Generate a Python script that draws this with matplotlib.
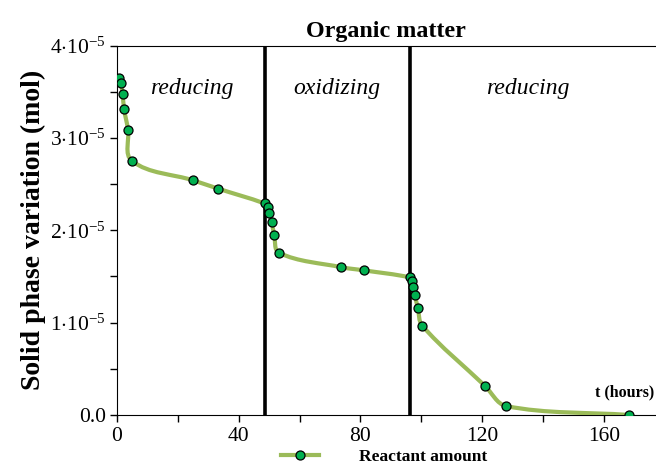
import numpy as np
import matplotlib
matplotlib.use("Agg")
from matplotlib import pyplot as plt
from matplotlib.ticker import FixedLocator, FixedFormatter
from matplotlib.path import Path
from matplotlib.patches import PathPatch
from matplotlib.lines import Line2D

# reactant amount (solid phase variation, mol) vs time (hours)
time_h = [0.7, 1.3, 1.9, 2.4, 3.7, 5.0, 25.1, 33.3, 48.5,
          49.6, 50.1, 50.8, 51.7, 53.3, 73.7, 81.3, 96.1,
          96.8, 97.1, 97.8, 98.8, 100.3, 120.9, 127.8, 168.2]
amount = [3.65e-5, 3.59e-5, 3.48e-5, 3.31e-5, 3.09e-5, 2.75e-5, 2.54e-5, 2.45e-5, 2.29e-5,
          2.25e-5, 2.19e-5, 2.09e-5, 1.95e-5, 1.755e-5, 1.60e-5, 1.565e-5, 1.49e-5,
          1.45e-5, 1.39e-5, 1.30e-5, 1.16e-5, 0.966e-5, 0.314e-5, 0.097e-5, 0.0]

switch_times = [48.7, 96.1]
phase_names = ["reducing", "oxidizing", "reducing"]
phase_centers = [24.7, 72.4, 135.0]

x_major = [0, 40, 80, 120, 160]
x_minor = [20, 60, 100, 140]
y_major = [0, 1e-5, 2e-5, 3e-5, 4e-5]
y_labels = ["0.0", r"$1{\cdot}10^{-5}$", r"$2{\cdot}10^{-5}$", r"$3{\cdot}10^{-5}$", r"$4{\cdot}10^{-5}$"]
y_minor = [0.5e-5, 1.5e-5, 2.5e-5, 3.5e-5]

plt.rcParams['font.family'] = ['Liberation Serif', 'DejaVu Serif']
plt.rcParams['mathtext.fontset'] = 'custom'
plt.rcParams['mathtext.rm'] = 'Liberation Serif'
plt.rcParams['mathtext.it'] = 'Liberation Serif:italic'

LINE_COLOR = '#9BBB59'
DOT_COLOR = '#00B050'


def SmoothPath(x, y, sx, sy):
    # bezier curve through the points (like a spreadsheet "smoothed line")
    p = np.column_stack([np.asarray(x) / sx, np.asarray(y) / sy])
    n = len(p)
    tang = np.zeros_like(p)
    for i in range(n):
        d = p[min(i + 1, n - 1)] - p[max(i - 1, 0)]
        tang[i] = d / np.hypot(*d)
    verts = [p[0]]
    codes = [Path.MOVETO]
    for i in range(n - 1):
        L = np.hypot(*(p[i + 1] - p[i]))
        verts += [p[i] + tang[i] * L / 3, p[i + 1] - tang[i + 1] * L / 3, p[i + 1]]
        codes += [Path.CURVE4] * 3
    verts = np.array(verts) * [sx, sy]
    return Path(verts, codes)


def main():
    fig = plt.figure(figsize=(6.56, 4.74), dpi=100)
    ax = fig.add_axes([0.178, 0.1245, 0.822, 0.7795])
    ax.set_xlim(0, 177)
    ax.set_ylim(0, 4e-5)

    for t in switch_times:
        ax.axvline(t, color='black', lw=2.6, zorder=2)

    path = SmoothPath(time_h, amount, 177 / 539.0, 4e-5 / 370.0)
    ax.add_patch(PathPatch(path, facecolor='none', edgecolor=LINE_COLOR, lw=3,
                           capstyle='round', zorder=3))
    ax.plot(time_h, amount, ls='none', marker='o', ms=6.5, mfc=DOT_COLOR,
            mec='black', mew=0.9, zorder=4)

    for name, xc in zip(phase_names, phase_centers):
        ax.text(xc, 3.53e-5, name, style='italic', fontsize=17, ha='center', va='center')

    ax.text(176.5, 0.16e-5, 't (hours)', fontweight='bold', fontsize=11.5, ha='right', va='bottom')

    ax.xaxis.set_major_locator(FixedLocator(x_major))
    ax.xaxis.set_minor_locator(FixedLocator(x_minor))
    ax.yaxis.set_major_locator(FixedLocator(y_major))
    ax.yaxis.set_major_formatter(FixedFormatter(y_labels))
    ax.yaxis.set_minor_locator(FixedLocator(y_minor))
    ax.tick_params(which='both', direction='out', length=5, width=1, labelsize=15.5)
    ax.tick_params(axis='y', pad=3)

    ax.spines['right'].set_visible(False)

    ax.set_title('Organic matter', fontweight='bold', fontsize=17.3, pad=6)
    ax.set_ylabel('Solid phase variation (mol)', fontweight='bold', fontsize=20, labelpad=3)

    handle = Line2D([], [], color=LINE_COLOR, lw=3, marker='o', ms=6.5,
                    mfc=DOT_COLOR, mec='black', mew=0.9)
    fig.legend([handle], ['Reactant amount'], loc='lower center',
               bbox_to_anchor=(0.585, -0.015), frameon=False,
               prop={'weight': 'bold', 'size': 12.5}, handlelength=2.2, handletextpad=2.3)

    fig.savefig('out.png', dpi=100)

if __name__ == '__main__':
    main()
